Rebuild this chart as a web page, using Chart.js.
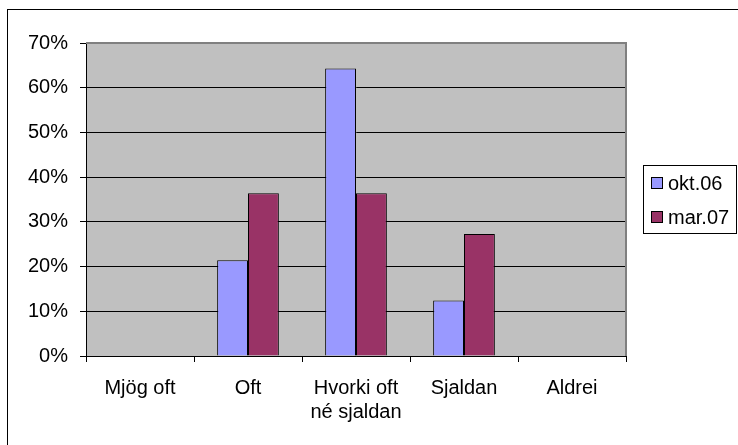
<!DOCTYPE html>
<html>
<head>
<meta charset="utf-8">
<script src="https://cdn.jsdelivr.net/npm/chart.js@4/dist/chart.umd.min.js"></script>
<style>
    html, body { margin: 0; padding: 0; background: #fff; }
    #wrap { width: 738px; height: 445px; }
</style>
</head>
<body>
<div id="wrap"><canvas id="myChart" width="738" height="445"></canvas></div>
<script>
const categories = ['Mjög oft', 'Oft', ['Hvorki oft', 'né sjaldan'], 'Sjaldan', 'Aldrei'];
const seriesNames = ['okt.06', 'mar.07'];
const okt06 = [0, 21.4, 64.3, 12.4, 0];
const mar07 = [0, 36.4, 36.4, 27.3, 0];
const yTicks = [0, 10, 20, 30, 40, 50, 60, 70];

const FONT = "'Liberation Sans', Arial, sans-serif";

// grey plot area + outer frame
const backdrop = {
    id: 'backdrop',
    beforeDraw(chart) {
        const { ctx, chartArea: a } = chart;
        ctx.save();
        ctx.fillStyle = '#C0C0C0';
        ctx.fillRect(a.left, a.top, a.right - a.left, a.bottom - a.top);
        ctx.restore();
    },
    afterDatasetsDraw(chart) {
        const { ctx, chartArea: a } = chart;
        ctx.save();
        ctx.strokeStyle = '#808080';
        ctx.lineWidth = 2;
        ctx.beginPath();
        ctx.moveTo(a.left, a.top);
        ctx.lineTo(a.right, a.top);
        ctx.lineTo(a.right, a.bottom);
        ctx.stroke();
        ctx.restore();
    },
    afterDraw(chart) {
        const ctx = chart.ctx;
        ctx.save();
        ctx.strokeStyle = '#000';
        ctx.lineWidth = 1;
        ctx.strokeRect(7.5, 9.5, 760, 460);
        ctx.restore();
    }
};

// legend in a framed box like Excel
const boxLegend = {
    id: 'boxLegend',
    afterDraw(chart) {
        const ctx = chart.ctx;
        ctx.save();
        ctx.fillStyle = '#fff';
        ctx.fillRect(643.5, 165.5, 93, 68);
        ctx.strokeStyle = '#000';
        ctx.lineWidth = 1;
        ctx.strokeRect(643.5, 165.5, 93, 68);
        ctx.font = '20px ' + FONT;
        ctx.textBaseline = 'middle';
        chart.data.datasets.forEach((ds, i) => {
            const cy = 183 + i * 34;
            ctx.fillStyle = ds.backgroundColor;
            ctx.fillRect(651.5, cy - 5.5, 11, 11);
            ctx.strokeRect(651.5, cy - 5.5, 11, 11);
            ctx.fillStyle = '#000';
            ctx.fillText(ds.label, 668, cy + 1);
        });
        ctx.restore();
    }
};

const ctx = document.getElementById('myChart').getContext('2d');

const myChart = new Chart(ctx, {
    type: 'bar',
    data: {
        labels: categories,
        datasets: [
            {
                label: seriesNames[0],
                data: okt06,
                backgroundColor: '#9999FF',
                borderColor: '#000',
                borderWidth: 1,
                categoryPercentage: 0.5714,
                barPercentage: 1,
            },
            {
                label: seriesNames[1],
                data: mar07,
                backgroundColor: '#993366',
                borderColor: '#000',
                borderWidth: 1,
                categoryPercentage: 0.5714,
                barPercentage: 1,
            }
        ]
    },
    options: {
        responsive: false,
        animation: false,
        layout: {
            padding: { left: 0, top: 43, right: 112, bottom: 0 }
        },
        plugins: {
            legend: { display: false },
            tooltip: { enabled: false },
        },
        scales: {
            x: {
                grid: {
                    drawOnChartArea: false,
                    drawTicks: true,
                    tickLength: 6,
                    color: '#000',
                    offset: true,
                },
                border: { color: '#000', width: 1 },
                ticks: {
                    color: '#000',
                    padding: 14,
                    maxRotation: 0,
                    autoSkip: false,
                    font: { family: FONT, size: 20, lineHeight: 1.2 },
                },
                afterFit: (scale) => { scale.height = 89; }
            },
            y: {
                min: 0,
                max: 70,
                afterBuildTicks: (scale) => {
                    scale.ticks = yTicks.map(v => ({ value: v }));
                },
                grid: {
                    color: '#000',
                    lineWidth: 1,
                    tickLength: 6,
                },
                border: { color: '#000', width: 1 },
                ticks: {
                    color: '#000',
                    padding: 12,
                    font: { family: FONT, size: 20 },
                    callback: (value) => value + '%'
                },
                afterFit: (scale) => { scale.width = 86; }
            }
        }
    },
    plugins: [backdrop, boxLegend]
});
</script>
</body>
</html>
